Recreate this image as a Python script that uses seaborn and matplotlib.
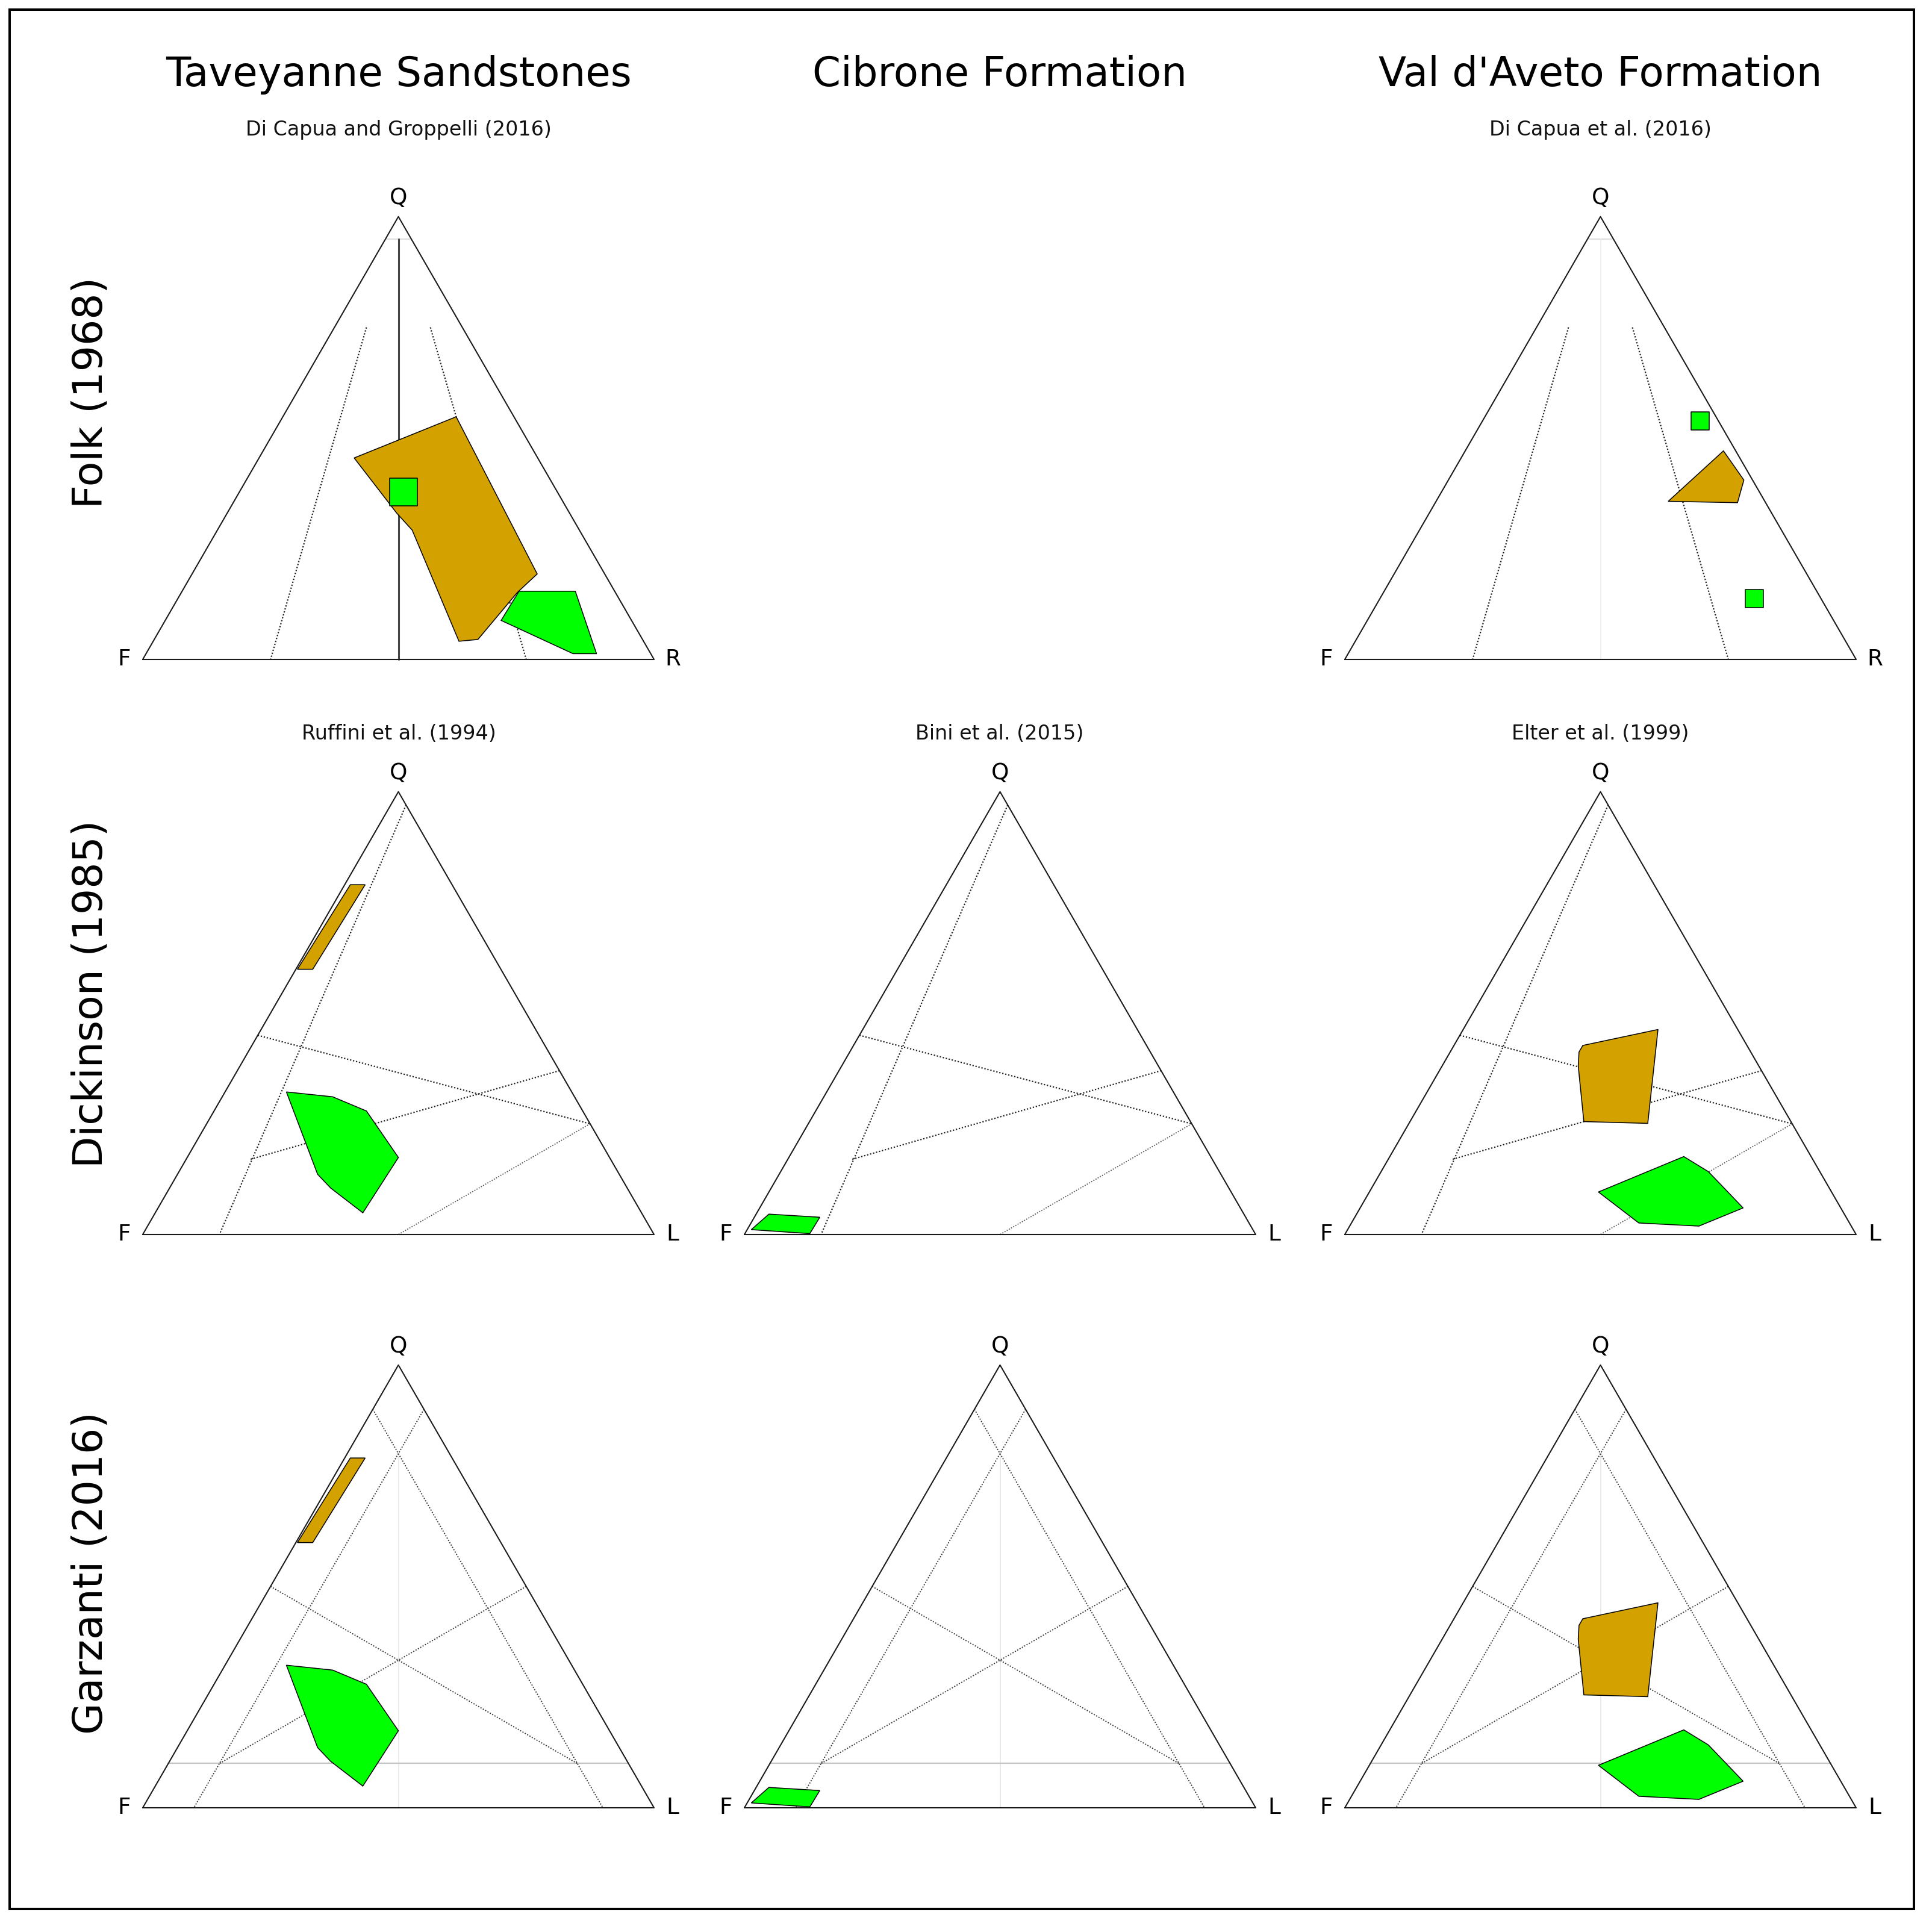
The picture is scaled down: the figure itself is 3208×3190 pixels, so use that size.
import numpy as np
import pandas as pd
import matplotlib.pyplot as plt
import seaborn as sns
from matplotlib.patches import Rectangle

sns.set_theme(style='white')
plt.rcParams['font.family'] = ['DejaVu Sans']

# Judul kolom / baris
col_titles = ['Taveyanne Sandstones', 'Cibrone Formation', "Val d'Aveto Formation"]
row_titles = ['Folk (1968)', 'Dickinson (1985)', 'Garzanti (2016)']
sub_folk = ['Di Capua and Groppelli (2016)', '', 'Di Capua et al. (2016)']
sub_qfl = ['Ruffini et al. (1994)', 'Bini et al. (2015)', 'Elter et al. (1999)']

# Data poligon dalam persen (Q, R) atau (Q, L); F = 100 - Q - R/L
folk_tav_brown = [(45.5, 18.6), (54.8, 33.9), (19.3, 67.5), (15.1, 65.7),
                  (4.5, 63.3), (4.1, 59.8), (29.2, 38.1), (33.0, 33.2)]
folk_tav_green = [(15.4, 65.9), (15.4, 76.9), (1.3, 88.1), (1.3, 83.5), (8.8, 65.7)]
folk_tav_squares = [(37.8, 32.1)]
folk_val_brown = [(35.7, 45.4), (47.1, 50.5), (40.5, 57.8), (35.4, 59.1)]
folk_val_squares = [(53.9, 42.6), (13.7, 73.3)]

qfl_tav_brown = [(79.0, 1.1), (79.0, 4.0), (59.9, 3.3), (59.9, 0.3)]
qfl_tav_green = [(32.2, 12.0), (31.1, 21.6), (27.9, 29.8), (17.4, 41.3),
                 (4.9, 40.6), (10.5, 31.5), (13.6, 27.4)]
qfl_cib_green = [(1.1, 0.8), (4.6, 2.5), (3.9, 12.8), (0.2, 12.7)]
qfl_val_brown = [(42.7, 25.2), (46.3, 38.1), (25.1, 46.7), (25.5, 34.0),
                 (38.1, 26.6), (41.2, 25.2)]
qfl_val_green = [(9.6, 44.8), (17.6, 57.5), (14.2, 64.0), (6.0, 74.9),
                 (1.9, 68.3), (2.6, 56.2)]

# Garis klasifikasi: (Q1, R1) -> (Q2, R2)
folk_dotted = [((75, 6.25), (0, 25)), ((75, 18.75), (0, 75))]
folk_center = [((95, 2.5), (0, 50))]
folk_q95 = [((95, 0), (95, 5))]
dick_dotted = [((97, 3), (0, 15)), ((45, 0), (25, 75)), ((17, 12.6), (37, 63))]
dick_gray = [((25, 75), (0, 50))]
garz_dotted = [((90, 0), (0, 90)), ((90, 10), (0, 10)), ((50, 0), (10, 80)), ((50, 50), (10, 10))]
garz_q10 = [((10, 0), (10, 90))]
garz_median = [((0, 50), (80, 10))]

BROWN = '#D4A200'
GREEN = '#00FF00'
SQ3 = np.sqrt(3) / 2

W, H = 3208, 3190
TRI = 849
MARGIN = 70
col_left = [237, 1236, 2233]
col_center = [662, 1660, 2657]
row_base = [1095, 2050, 3002]


def to_xy(pts):
    arr = np.asarray(pts, dtype=float) / 100
    q, s = arr[:, 0], arr[:, 1]
    return s + q / 2, q * SQ3


def draw_lines(ax, segs, color, lw, ls):
    for a, b in segs:
        x, y = to_xy([a, b])
        df = pd.DataFrame({'x': x, 'y': y})
        sns.lineplot(data=df, x='x', y='y', sort=False, estimator=None, ax=ax,
                     color=color, linewidth=lw, linestyle=ls)


def draw_poly(ax, pts, color):
    x, y = to_xy(pts)
    ax.fill(x, y, facecolor=color, edgecolor='black', linewidth=1.1, zorder=4)


def draw_squares(ax, pts, size):
    x, y = to_xy(pts)
    sns.scatterplot(x=x, y=y, marker='s', s=size, color=GREEN, edgecolor='black',
                    linewidth=1.1, ax=ax, zorder=5)


fig = plt.figure(figsize=(W / 100, H / 100), dpi=100)

dot = (0, (1.0, 1.3))
for r in range(3):
    for c in range(3):
        if r == 0 and c == 1:
            continue
        left = col_left[c] - MARGIN
        bottom = H - (row_base[r] + MARGIN)
        ax = fig.add_axes([left / W, bottom / H, (TRI + 2 * MARGIN) / W,
                           (TRI * SQ3 + 2 * MARGIN) / H])
        ax.set_xlim(-MARGIN / TRI, 1 + MARGIN / TRI)
        ax.set_ylim(-MARGIN / TRI, SQ3 + MARGIN / TRI)
        ax.axis('off')

        # garis klasifikasi
        if r == 0:
            draw_lines(ax, folk_q95, '#dddddd', 1.4, '-')
            draw_lines(ax, folk_dotted, '#222222', 1.6, dot)
            if c == 0:
                draw_lines(ax, folk_center, '#444444', 2.2, '-')
            else:
                draw_lines(ax, folk_center, '#eeeeee', 1.2, '-')
        elif r == 1:
            draw_lines(ax, dick_dotted, '#222222', 1.6, dot)
            draw_lines(ax, dick_gray, '#555555', 1.3, dot)
        else:
            draw_lines(ax, garz_median, '#e6e6e6', 1.2, '-')
            draw_lines(ax, garz_q10, '#c4c4c4', 1.6, '-')
            draw_lines(ax, garz_dotted, '#3a3a3a', 1.4, dot)

        # segitiga
        tri = pd.DataFrame({'x': [0, 1, 0.5, 0], 'y': [0, 0, SQ3, 0]})
        sns.lineplot(data=tri, x='x', y='y', sort=False, estimator=None, ax=ax,
                     color='#1a1a1a', linewidth=1.5)

        # label sudut
        off = 31 / TRI
        right_lab = 'R' if r == 0 else 'L'
        ax.text(0.5, SQ3 + off, 'Q', ha='center', va='center', fontsize=27, color='black')
        ax.text(-off, 0, 'F', ha='center', va='center', fontsize=27, color='black')
        ax.text(1 + off, 0, right_lab, ha='center', va='center', fontsize=27, color='black')

        # data
        if r == 0 and c == 0:
            draw_poly(ax, folk_tav_brown, BROWN)
            draw_poly(ax, folk_tav_green, GREEN)
            draw_squares(ax, folk_tav_squares, 1050)
        elif r == 0 and c == 2:
            draw_poly(ax, folk_val_brown, BROWN)
            draw_squares(ax, folk_val_squares, 440)
        elif c == 0:
            draw_poly(ax, qfl_tav_brown, BROWN)
            draw_poly(ax, qfl_tav_green, GREEN)
        elif c == 1:
            draw_poly(ax, qfl_cib_green, GREEN)
        else:
            draw_poly(ax, qfl_val_brown, BROWN)
            draw_poly(ax, qfl_val_green, GREEN)

# judul kolom
for c in range(3):
    fig.text(col_center[c] / W, 1 - 143 / H, col_titles[c], ha='center',
             va='baseline', fontsize=48.5, color='black')
    if sub_folk[c]:
        fig.text(col_center[c] / W, 1 - 225 / H, sub_folk[c], ha='center',
                 va='baseline', fontsize=24, color='#111111')
    fig.text(col_center[c] / W, 1 - 1228 / H, sub_qfl[c], ha='center',
             va='baseline', fontsize=24, color='#111111')

# judul baris
row_mid = [652, 1650, 2612]
for r in range(3):
    fig.text(150 / W, 1 - row_mid[r] / H, row_titles[r], rotation=90, ha='center',
             va='center', fontsize=49, color='black')

# bingkai luar
fig.patches.append(Rectangle((16 / W, 20 / H), (3178 - 16) / W, (3170 - 16) / H,
                             transform=fig.transFigure, fill=False,
                             edgecolor='black', linewidth=2.9))

plt.savefig('out.png', dpi=100)
